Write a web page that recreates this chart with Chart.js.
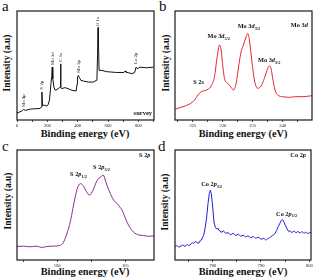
<!DOCTYPE html>
<html><head><meta charset="utf-8">
<script src="https://cdn.jsdelivr.net/npm/chart.js@4.4.0/dist/chart.umd.min.js"></script>
<style>
body{margin:0;background:#fff;width:316px;height:278px;overflow:hidden;position:relative;font-family:'Liberation Serif',serif;color:#111}
canvas{position:absolute}
.lt{position:absolute;font-size:15px;line-height:1}
.xt{position:absolute;font-size:10.3px;font-weight:bold;transform:translate(-50%,-50%);white-space:nowrap}
.yt{position:absolute;font-size:9.5px;font-weight:bold;transform:translate(-50%,-50%) rotate(-90deg);white-space:nowrap}
</style></head><body>
<div class="lt" style="left:2px;top:-1px">a</div>
<div class="lt" style="left:159px;top:-1px">b</div>
<div class="lt" style="left:2px;top:139px">c</div>
<div class="lt" style="left:158px;top:139px">d</div>
<div class="yt" style="left:7px;top:63px">Intensity (a.u)</div>
<div class="yt" style="left:166px;top:63px">Intensity (a.u)</div>
<div class="yt" style="left:8px;top:201px">Intensity (a.u)</div>
<div class="yt" style="left:165px;top:202px">Intensity (a.u)</div>
<div class="xt" style="left:85px;top:133px">Binding energy (eV)</div>
<div class="xt" style="left:243px;top:133px">Binding energy (eV)</div>
<div class="xt" style="left:85px;top:271px">Binding energy (eV)</div>
<div class="xt" style="left:243px;top:271px">Binding energy (eV)</div>
<canvas id="ca"></canvas>
<canvas id="cb"></canvas>
<canvas id="cc"></canvas>
<canvas id="cd"></canvas>
<script>
// a: survey
const surveyEnergy = [0, 20, 35, 43, 55, 88, 120, 153, 160, 164, 168, 175, 190, 197, 205, 214, 224, 229, 232, 236, 243, 252, 263, 280, 284, 287, 290, 293, 318, 362, 390, 396, 399, 405, 412, 421, 438, 471, 504, 522, 527, 531, 534, 537, 541, 559, 592, 658, 705, 712, 718, 757, 775, 785, 793, 811, 855, 900]
const surveyCounts = [6.4, 7.5, 8.5, 9.8, 8.8, 10, 10.3, 10.6, 12, 25.7, 13, 13.6, 13.2, 12.7, 14, 18.2, 33.6, 40, 48.5, 38, 30.3, 27.3, 27.9, 29.7, 30, 51.5, 30, 28.8, 29.7, 27.3, 26.6, 33, 39.4, 40.9, 38.8, 36.4, 35.7, 34.8, 34.8, 36.4, 38, 60, 84.8, 70, 45.5, 45.5, 44.3, 43.6, 43.6, 45, 43.9, 42.5, 43.5, 48.5, 47, 48.5, 47.9, 48.5]
const surveyTicks = [0, 200, 400, 600, 800]
const surveyNotes = ['Mo 4p', 'S 2p', 'Mo 3d', 'C 1s', 'Mo 3p', 'O 1s', 'Co 2p']
const surveyNoteX = [45, 164, 235, 287, 404, 535, 785]
const surveyNoteY = [12, 28, 50.5, 53.5, 43.4, 86.2, 51.1]

// b: Mo 3d
const mo3dEnergy = [222.05, 223.33, 224.44, 225.27, 225.83, 226.39, 226.94, 227.5, 228.05, 228.6, 229.05, 229.44, 229.72, 230, 230.27, 230.83, 231.39, 231.77, 232.22, 232.67, 233.05, 233.44, 233.89, 234.17, 234.44, 234.83, 235.27, 235.83, 236.39, 236.94, 237.5, 237.77, 238.05, 238.33, 238.72, 239.17, 240, 241.1, 242.2, 243.33, 244.9]
const mo3dCounts = [10.1, 12.2, 14.7, 18.3, 22.9, 26, 26.9, 28.1, 31.2, 39.7, 58.1, 68.8, 64.2, 48.9, 38.2, 33.6, 30, 27.5, 33.6, 50.5, 62.7, 68.8, 76.4, 79.5, 73.4, 55, 36.7, 29.1, 31.2, 38.2, 47.4, 49.5, 47.4, 38.2, 27.5, 22.9, 21.4, 20.8, 21.4, 21.4, 22.3]
const mo3dTicks = [225, 230, 235, 240]
const mo3dNotes = ['S 2s', 'Mo 3|d|5/2', 'Mo 3|d|3/2', 'Mo 3|d|3/2', 'Mo 3|d|']
const mo3dNoteX = [225.05, 229.3, 234.35, 237.75, 244.2]
const mo3dNoteY = [34.9, 76.4, 85.6, 54.4, 87.2]

// c: S 2p
const s2pEnergy = [157.04, 157.52, 158.01, 158.51, 158.87, 159.24, 159.73, 160.17, 160.42, 160.59, 160.76, 160.96, 161.15, 161.32, 161.49, 161.69, 161.89, 162.13, 162.38, 162.62, 162.87, 163.07, 163.24, 163.36, 163.48, 163.65, 163.9, 164.14, 164.39, 164.58, 164.76, 164.93, 165.13, 165.37, 165.61, 165.98, 166.35, 166.71, 167.13]
const s2pCounts = [12.3, 12.6, 12, 12.6, 11.4, 12.3, 12.6, 13.2, 15.3, 19.8, 25.8, 34.8, 46.8, 57.4, 65.5, 69.4, 67.9, 62.5, 58.9, 63.4, 70.9, 74.5, 76, 77.5, 74.5, 67.9, 60.4, 54.4, 51.4, 48.3, 45.3, 40.2, 34.2, 28.8, 25.2, 22.8, 22.2, 21.6, 21.9]
const s2pTicks = [160, 165]
const s2pNotes = ['S 2|p|', 'S 2|p|1/2', 'S 2|p|3/2']
const s2pNoteX = [166.84, 161.56, 163.25]
const s2pNoteY = [95.5, 77.5, 84.3]

// d: Co 2p
const co2pEnergy = [772.2, 772.5, 772.75, 773.0, 773.23, 773.5, 773.78, 774.05, 774.33, 774.6, 774.82, 775.05, 775.3, 775.6, 775.85, 776.0, 776.2, 776.4, 776.54, 776.8, 777.02, 777.2, 777.37, 777.6, 777.78, 778.13, 778.47, 778.75, 779.03, 779.3, 779.51, 779.72, 780.0, 780.27, 780.54, 780.82, 781.1, 781.3, 781.51, 781.7, 781.93, 782.2, 782.41, 782.65, 782.89, 783.15, 783.44, 783.7, 784.0, 784.25, 784.48, 784.75, 785.03, 785.3, 785.51, 785.8, 786.07, 786.3, 786.55, 786.8, 787.03, 787.3, 787.58, 787.85, 788.14, 788.4, 788.62, 788.85, 789.1, 789.4, 789.65, 789.95, 790.21, 790.45, 790.69, 790.95, 791.17, 791.4, 791.59, 791.8, 792.0, 792.42, 792.83, 793.24, 793.59, 793.93, 794.21, 794.49, 794.76, 795.04, 795.38, 795.73, 795.95, 796.14, 796.35, 796.56, 796.8, 796.97, 797.2, 797.39, 797.6, 797.8, 798.0, 798.21, 798.4, 798.63, 798.85, 799.04, 799.25, 799.46, 799.65, 799.87, 800.1, 800.35]
const co2pCounts = [12.2, 13.0, 12.6, 11.5, 12.4, 12.8, 13.6, 12.9, 12.4, 13.8, 14.1, 13.0, 13.6, 15.2, 15.8, 15.1, 15.6, 16.6, 16.9, 15.6, 15.0, 16.4, 17.4, 18.5, 19.6, 22.3, 29.9, 39, 51.2, 60.4, 63.4, 60.4, 48.2, 34.5, 29.9, 28.1, 28.8, 27.0, 26.6, 25.2, 25.5, 26.4, 25.8, 24.3, 24.6, 24.9, 24.0, 23.0, 23.6, 24.3, 23.4, 22.4, 22.8, 23.5, 22.6, 21.7, 21.9, 22.6, 21.8, 20.9, 21.4, 22.0, 21.2, 20.4, 20.8, 21.3, 20.6, 19.8, 20.0, 20.7, 20.1, 19.1, 18.9, 19.8, 19.3, 18.2, 18.6, 19.5, 19.6, 20.5, 21.0, 22.3, 23.8, 26.8, 30.5, 33.5, 36, 36.6, 34.5, 31.4, 28.4, 25.8, 26.6, 26.2, 24.9, 25.3, 26.5, 26.0, 24.8, 25.0, 26.1, 25.6, 24.5, 24.9, 25.8, 25.3, 24.2, 24.5, 25.3, 24.9, 23.9, 24.4, 25.0, 24.7]
const co2pTicks = [780, 790, 800]
const co2pNotes = ['Co 2|p|', 'Co 2|p|3/2', 'Co 2|p|1/2']
const co2pNoteX = [799.3, 779.8, 795.3]
const co2pNoteY = [95.2, 68.5, 41.8]

const FONT = "'Liberation Serif', serif"
const PAD = 6

function drawRich(ctx, str, x, y, size, align) {
  const parts = str.split('|')
  const fonts = ['bold ' + size + 'px ' + FONT, 'italic bold ' + size + 'px ' + FONT, 'bold ' + (size * 0.68) + 'px ' + FONT]
  let widths = parts.map((p, i) => { ctx.font = fonts[i]; return ctx.measureText(p).width })
  let total = widths.reduce((a, b) => a + b, 0)
  let cx = align == 'center' ? x - total / 2 : align == 'right' ? x - total : x
  ctx.textAlign = 'left'
  ctx.textBaseline = 'middle'
  parts.forEach((p, i) => {
    ctx.font = fonts[i]
    ctx.fillText(p, cx, i == 2 ? y + size * 0.35 : y)
    cx += widths[i]
  })
}

function makeChart(id, rect, xMin, xMax, step, labels, xs, ys, color, notes, tension) {
  const cv = document.getElementById(id)
  cv.width = rect.w + PAD * 2
  cv.height = rect.h + PAD + 14
  cv.style.left = (rect.x - PAD) + 'px'
  cv.style.top = (rect.y - PAD) + 'px'
  const pts = xs.map((x, i) => ({x: x, y: ys[i]}))
  const boxAndNotes = {
    id: 'boxAndNotes',
    afterDraw(chart) {
      const ctx = chart.ctx
      const a = chart.chartArea
      ctx.save()
      ctx.strokeStyle = '#1a1a1a'
      ctx.lineWidth = 1.2
      ctx.strokeRect(a.left, a.top, a.right - a.left, a.bottom - a.top)
      ctx.fillStyle = '#111'
      notes.forEach(n => {
        const px = chart.scales.x.getPixelForValue(n.x)
        const py = chart.scales.y.getPixelForValue(n.y)
        if (n.rot) {
          ctx.save()
          ctx.translate(px, py)
          ctx.rotate(-Math.PI / 2)
          ctx.font = '4.8px ' + FONT
          ctx.textAlign = 'left'
          ctx.textBaseline = 'middle'
          ctx.fillText(n.t, 0, 0)
          ctx.restore()
        } else {
          drawRich(ctx, n.t, px, py, n.size || 6.3, n.align || 'center')
        }
      })
      ctx.restore()
    }
  }
  return new Chart(cv, {
    type: 'line',
    data: {datasets: [{data: pts, borderColor: color, borderWidth: 1, pointRadius: 0, tension: tension, cubicInterpolationMode: tension ? 'monotone' : 'default'}]},
    options: {
      responsive: false,
      animation: false,
      devicePixelRatio: 1,
      layout: {padding: {left: PAD, right: PAD, top: PAD, bottom: 0}},
      plugins: {legend: {display: false}, tooltip: {enabled: false}},
      scales: {
        x: {
          type: 'linear', min: xMin, max: xMax,
          afterBuildTicks: s => {
            const t = []
            for (let v = Math.ceil(xMin / step) * step; v <= xMax + 1e-6; v += step) t.push({value: v})
            s.ticks = t
          },
          afterFit: s => { s.height = 14 },
          ticks: {
            autoSkip: false, maxRotation: 0, padding: 1, color: '#222',
            font: {family: FONT, size: 4.6},
            callback: v => labels.some(l => Math.abs(l - v) < 1e-6) ? String(Math.round(v)) : ''
          },
          grid: {drawOnChartArea: false, tickLength: 2, color: '#222', lineWidth: 0.8},
          border: {display: false}
        },
        y: {display: false, min: 0, max: 100}
      }
    },
    plugins: [boxAndNotes]
  })
}

const surveyN = surveyNotes.map((t, i) => ({t: t, x: surveyNoteX[i], y: surveyNoteY[i], rot: true}))
surveyN.push({t: 'survey', x: 890, y: 6.4, align: 'right', size: 6.5})
makeChart('ca', {x: 17, y: 11, w: 137, h: 109}, 0, 903, 100, surveyTicks, surveyEnergy, surveyCounts, '#111', surveyN, 0)

const mo3dN = mo3dNotes.map((t, i) => ({t: t, x: mo3dNoteX[i], y: mo3dNoteY[i]}))
mo3dN[0].align = 'left'
mo3dN[4].align = 'right'
makeChart('cb', {x: 175, y: 11, w: 137, h: 109}, 222, 244.9, 2.5, mo3dTicks, mo3dEnergy, mo3dCounts, '#e3262d', mo3dN, 0.3)

const s2pN = s2pNotes.map((t, i) => ({t: t, x: s2pNoteX[i], y: s2pNoteY[i]}))
s2pN[0].align = 'right'
makeChart('cc', {x: 17, y: 150, w: 137, h: 110}, 157.05, 167.1, 2.5, s2pTicks, s2pEnergy, s2pCounts, '#8c2a93', s2pN, 0.3)

const co2pN = co2pNotes.map((t, i) => ({t: t, x: co2pNoteX[i], y: co2pNoteY[i]}))
co2pN[0].align = 'right'
makeChart('cd', {x: 175, y: 150, w: 136, h: 110}, 772.2, 800.35, 5, co2pTicks, co2pEnergy, co2pCounts, '#1f1fd3', co2pN, 0)
</script>
</body></html>
